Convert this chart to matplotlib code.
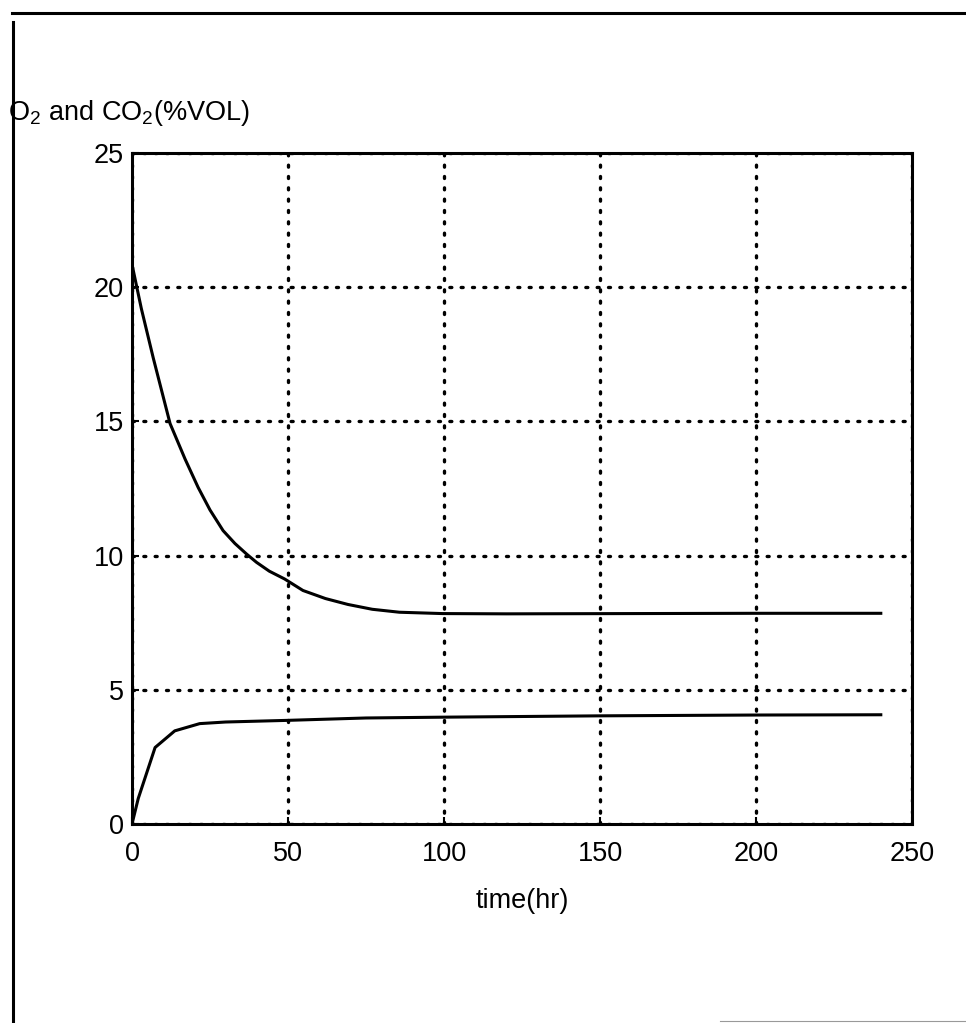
import matplotlib.pyplot as plt
from matplotlib.lines import Line2D

plt.rcParams['font.family'] = ['Liberation Sans', 'DejaVu Sans']

# O2 concentration (%VOL) vs time (hr)
o2_time = [0, 3, 6.8, 12.2, 17, 21.2, 25, 29.2, 33, 36.7, 39.9, 44, 48.9,
           54.8, 62, 69.2, 77, 85.7, 99.5, 120, 160, 200, 240]
o2_vol = [20.85, 19.2, 17.37, 14.92, 13.6, 12.54, 11.7, 10.93, 10.45, 10.06, 9.75,
          9.42, 9.13, 8.7, 8.4, 8.18, 8.0, 7.89, 7.84, 7.83, 7.84, 7.85, 7.85]

# CO2 concentration (%VOL) vs time (hr)
co2_time = [0, 2, 7.4, 13.7, 21.7, 30, 49.4, 75, 99.5, 150, 200, 240]
co2_vol = [0, 0.95, 2.85, 3.47, 3.74, 3.8, 3.86, 3.95, 3.98, 4.03, 4.06, 4.07]

xticks = [0, 50, 100, 150, 200, 250]
yticks = [0, 5, 10, 15, 20, 25]

fig = plt.figure(figsize=(9.66, 10.23), dpi=100)
ax = fig.add_axes([132 / 966, 1 - 824 / 1023, 780 / 966, 671 / 1023])

ax.plot(o2_time, o2_vol, color='black', lw=2.2)
ax.plot(co2_time, co2_vol, color='black', lw=2.2)

ax.set_xlim(0, 250)
ax.set_ylim(0, 25)
ax.set_xticks(xticks)
ax.set_yticks(yticks)
ax.tick_params(direction='in', length=5, width=1.5, labelsize=19.5)
ax.tick_params(axis='x', pad=12)
ax.tick_params(axis='y', pad=6)

ax.grid(True, color='black', lw=2.4, linestyle=(0, (0.6, 2.8)), dash_capstyle='round')
for s in ax.spines.values():
    s.set_linewidth(2.2)

ax.set_xlabel('time(hr)', fontsize=19.5)
ax.xaxis.set_label_coords(0.5, -0.095)

fig.text(8 / 966, 1 - 120 / 1023, r'O$\mathregular{_2}$ and CO$\mathregular{_2}$(%VOL)',
         fontsize=19.5, va='baseline', ha='left')

# scanned page border
fig.add_artist(Line2D([12 / 966, 1], [1 - 13 / 1023, 1 - 13 / 1023], color='black', lw=2.2))
fig.add_artist(Line2D([13 / 966, 13 / 966], [1 - 22 / 1023, 0], color='black', lw=2.2))
fig.add_artist(Line2D([720 / 966, 1], [2 / 1023, 2 / 1023], color='0.6', lw=0.8))

fig.savefig('out.png', dpi=100)
